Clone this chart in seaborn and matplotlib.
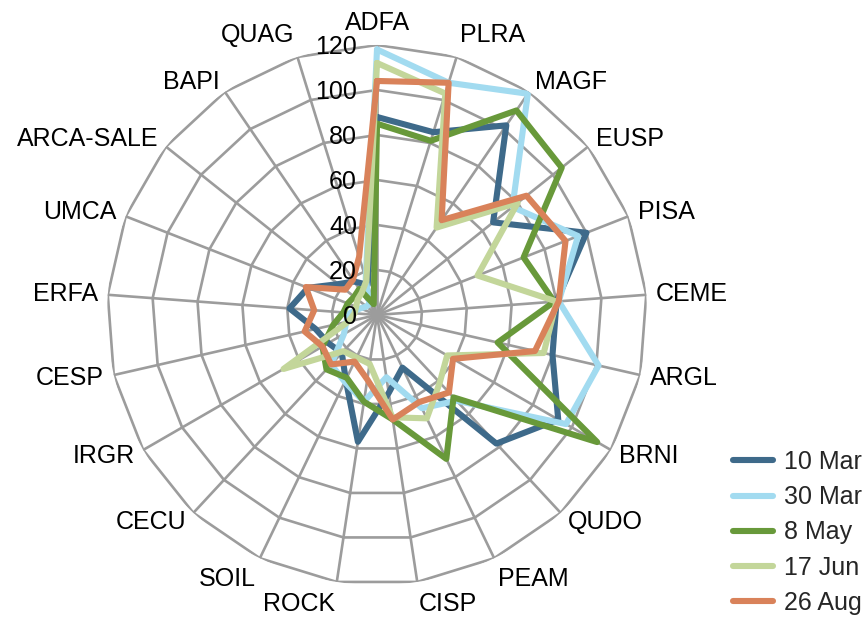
import numpy as np
import pandas as pd
import matplotlib
matplotlib.use("Agg")
import matplotlib.pyplot as plt
import seaborn as sns

# Species / cover categories, clockwise from the top
categories = ["ADFA", "PLRA", "MAGF", "EUSP", "PISA", "CEME", "ARGL", "BRNI",
              "QUDO", "PEAM", "CISP", "ROCK", "SOIL", "CECU", "IRGR", "CESP",
              "ERFA", "UMCA", "ARCA-SALE", "BAPI", "QUAG"]

dates = ["10 Mar", "30 Mar", "8 May", "17 Jun", "26 Aug"]

mar10 = [88, 85, 102, 66, 100, 80, 80, 93, 78, 26, 35, 57, 32, 23, 25, 28, 39, 33, 22, 18, 14]
mar30 = [118, 108, 119, 77, 96, 81, 101, 97, 52, 46, 28, 39, 33, 30, 17, 14, 12, 8, 6, 6, 17]
may8 = [85, 81, 110, 105, 70, 79, 55, 113, 50, 71, 47, 39, 31, 33, 28, 20, 15, 14, 13, 14, 5]
jun17 = [112, 103, 47, 80, 48, 80, 76, 36, 41, 51, 46, 22, 21, 22, 48, 13, 10, 10, 11, 12, 16]
aug26 = [104, 108, 51, 85, 90, 81, 72, 39, 47, 43, 47, 29, 23, 30, 28, 33, 28, 34, 18, 19, 27]

ring_ticks = [0, 20, 40, 60, 80, 100, 120]

colors = ["#3E6A8A", "#A2DBF0", "#68993A", "#C3D69A", "#D9825A"]
grid_color = "#9C9C9C"

sns.set_theme(style="white")
plt.rcParams["font.family"] = ["Liberation Sans", "DejaVu Sans"]

fig = plt.figure(figsize=(8.68, 6.20), dpi=100)
ax = fig.add_axes([0.1233, 0.0565, 0.6221, 0.871], projection="polar")
ax.set_theta_zero_location("N")
ax.set_theta_direction(-1)

n = len(categories)
angles = np.linspace(0, 2 * np.pi, n, endpoint=False)
closed = np.append(angles, 2 * np.pi)

# polygon web: rings and spokes
for t in ring_ticks[1:]:
    ax.plot(closed, [t] * (n + 1), color=grid_color, lw=1.9, zorder=1)
for a in angles:
    ax.plot([a, a], [0, 120], color=grid_color, lw=1.9, zorder=1)

# long-form table of the series, each polygon closed back on its first category
rows = []
for name, vals in zip(dates, [mar10, mar30, may8, jun17, aug26]):
    for th, v in zip(closed, list(vals) + [vals[0]]):
        rows.append({"theta": th, "value": v, "date": name})
df = pd.DataFrame(rows)

sns.lineplot(data=df, x="theta", y="value", hue="date", hue_order=dates,
             palette=colors, sort=False, estimator=None, lw=4.4, ax=ax,
             zorder=3)

handles, labels = ax.get_legend_handles_labels()
if ax.get_legend() is not None:
    ax.get_legend().remove()

ax.set_ylim(0, 120)
ax.set_xticks([])
ax.set_yticks([])
ax.grid(False)
ax.spines["polar"].set_visible(False)
ax.set_xlabel("")
ax.set_ylabel("")

# category labels just outside the outer ring
for a, cat in zip(angles, categories):
    s, c = np.sin(a), np.cos(a)
    if s > 0.1:
        ha = "left"
    elif s < -0.1:
        ha = "right"
    else:
        ha = "center"
    if c > 0.9:
        va = "bottom"
    elif c < -0.9:
        va = "top"
    else:
        va = "center"
    dx = 10 * s
    dy = 10 * c if va != "center" else 12 * c
    ax.annotate(cat, xy=(a, 120), xytext=(dx, dy), textcoords="offset pixels",
                ha=ha, va=va, fontsize=18, color="black",
                annotation_clip=False, zorder=10)

# ring value labels along the top spoke
for t in ring_ticks:
    ax.annotate(str(t), xy=(0, t), xytext=(-20, -2), textcoords="offset pixels",
                ha="right", va="center", fontsize=18, color="black",
                annotation_clip=False, zorder=10)

fig.legend(handles, labels, loc="upper left",
           bbox_to_anchor=(733 / 868, 1 - 450 / 620), frameon=False,
           fontsize=18, handlelength=1.6, handletextpad=0.45,
           labelspacing=0.45, borderaxespad=0, borderpad=0)

fig.savefig("out.png", dpi=100, facecolor="white")
